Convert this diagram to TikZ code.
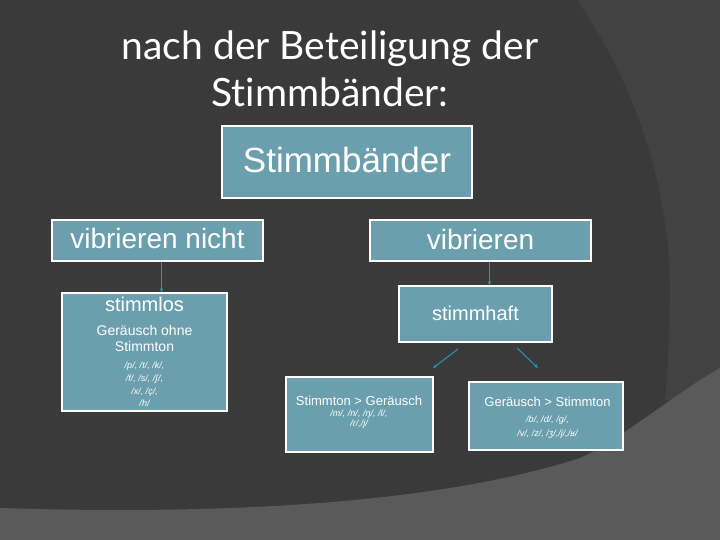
\documentclass[tikz,border=0pt]{standalone}
\usepackage{fontspec}
\setmainfont{Liberation Sans}
\newfontfamily\titlefont[Ligatures={NoCommon,NoContextual}]{Lato}
\usetikzlibrary{arrows.meta}
\definecolor{bgdark}{RGB}{58,58,58}
\definecolor{bgband}{RGB}{66,66,66}
\definecolor{bglight}{RGB}{90,90,90}
\definecolor{boxfill}{RGB}{107,159,174}
\definecolor{arrowcol}{RGB}{40,150,180}
\tikzset{
  box/.style={draw=white, line width=1.6pt, fill=boxfill, inner sep=0pt, text=white},
  lbl/.style={text=white, inner sep=0pt, anchor=base},
  arr/.style={draw=arrowcol, line width=1pt, -{Stealth[length=4pt,width=3.5pt]}},
}
\begin{document}
\begin{tikzpicture}[x=1pt,y=-1pt]
\useasboundingbox (0,0) rectangle (720,540);
% background
\fill[bgdark] (0,0) rectangle (720,540);
\fill[bgband] (577,0) .. controls (640,90) and (672,200) .. (670,300)
  .. controls (669,340) and (668,370) .. (665,400) -- (720,400) -- (720,0) -- cycle;
\fill[bglight] (0,508) .. controls (250,516) and (450,500) .. (580,458)
  .. controls (620,440) and (680,390) .. (720,368) -- (720,540) -- (0,540) -- cycle;
% title
\node[lbl, text=white] (t1) at (330,60) {\titlefont\fontsize{39}{46}\selectfont nach der Beteiligung der};
\node[lbl, text=white] (t2) at (330,107) {\titlefont\fontsize{39}{46}\selectfont Stimmbänder:};
% boxes
\node[box, minimum width=250pt, minimum height=72pt] (top) at (347,162) {};
\node[lbl] (toptxt) at (347,173) {\fontsize{35}{42}\selectfont Stimmbänder};
\node[box, minimum width=211pt, minimum height=41pt] (vnicht) at (157.5,240.5) {};
\node[lbl] (vnichttxt) at (157.5,248.5) {\fontsize{28}{33}\selectfont vibrieren nicht};
\node[box, minimum width=221pt, minimum height=41pt] (vib) at (480.5,240.5) {};
\node[lbl] (vibtxt) at (480.5,249) {\fontsize{28}{33}\selectfont vibrieren};
\node[box, minimum width=165pt, minimum height=118pt] (slos) at (144.5,352) {};
\node[lbl] (slos1) at (144.5,311.7) {\fontsize{20}{24}\selectfont stimmlos};
\node[lbl] (slos2) at (144.5,335.7) {\fontsize{14}{16}\selectfont Geräusch ohne};
\node[lbl] (slos3) at (144.5,351.7) {\fontsize{14}{16}\selectfont Stimmton};
\node[lbl] (slos4) at (144.5,368) {\fontsize{9}{11}\selectfont\itshape /p/, /t/, /k/,};
\node[lbl] (slos5) at (144.5,381.7) {\fontsize{9}{11}\selectfont\itshape /f/, /s/, /ʃ/,};
\node[lbl] (slos6) at (144.5,394) {\fontsize{9}{11}\selectfont\itshape /x/, /ç/,};
\node[lbl] (slos7) at (144.5,406.7) {\fontsize{9}{11}\selectfont\itshape /h/};
\node[box, minimum width=153pt, minimum height=56pt] (shaft) at (475.5,314) {};
\node[lbl] (shafttxt) at (475.5,320.7) {\fontsize{20}{24}\selectfont stimmhaft};
\node[box, minimum width=147pt, minimum height=75pt] (stg) at (359.5,414.5) {};
\node[lbl] (stg1) at (359,405) {\fontsize{13}{15}\selectfont Stimmton > Geräusch};
\node[lbl] (stg2) at (359,416.7) {\fontsize{9}{11}\selectfont\itshape /m/, /n/, /ŋ/, /l/,};
\node[lbl] (stg3) at (359,426.7) {\fontsize{9}{11}\selectfont\itshape /r/,/j/};
\node[box, minimum width=154pt, minimum height=68pt] (gst) at (546,416) {};
\node[lbl] (gst1) at (547.5,406.7) {\fontsize{13}{15}\selectfont Geräusch > Stimmton};
\node[lbl] (gst2) at (547.5,422) {\fontsize{9}{11}\selectfont\itshape /b/, /d/, /g/,};
\node[lbl] (gst3) at (547.5,436) {\fontsize{9}{11}\selectfont\itshape /v/, /z/, /ʒ/,/j/,/ʁ/};
% arrows
\draw[arr] ([xshift=4pt]vnicht.south) -- ([xshift=4pt]vnicht.south |- slos.north);
\draw[arr] ([xshift=9pt]vib.south) -- ([xshift=9pt]vib.south |- shaft.north);
\coordinate (d1s) at (458,349);
\coordinate (d1e) at (433,368);
\coordinate (d2s) at (517,348);
\coordinate (d2e) at (538,368);
\draw[arr] (d1s) -- (d1e);
\draw[arr] (d2s) -- (d2e);
\end{tikzpicture}
\end{document}
